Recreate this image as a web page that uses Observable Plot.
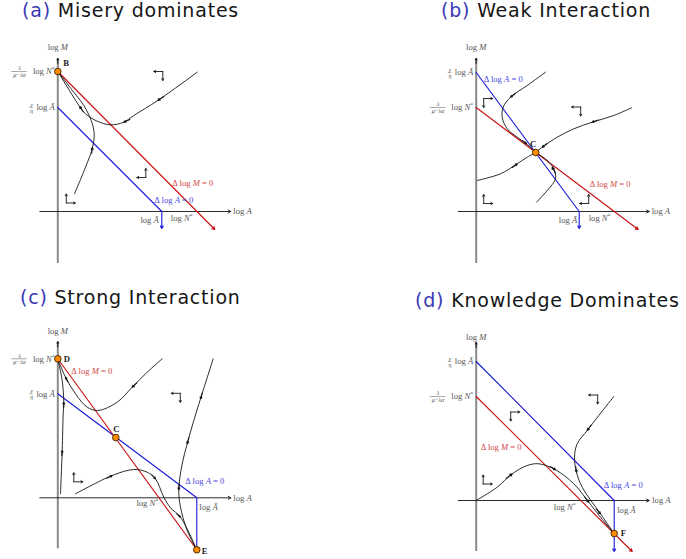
<!DOCTYPE html>
<html><head><meta charset="utf-8">
<script src="https://cdn.jsdelivr.net/npm/d3@7"></script>
<script src="https://cdn.jsdelivr.net/npm/@observablehq/plot@0.6"></script>
<style>
body{margin:0;background:#fff;}
#root{position:relative;width:686px;height:559px;overflow:hidden;background:#fff;}
.title{position:absolute;font-family:"DejaVu Sans",sans-serif;font-size:19px;letter-spacing:0.8px;line-height:20px;white-space:nowrap;color:#161616;}
.title .tag{color:#3838b4;}
.panel{position:absolute;}
.panel svg{overflow:visible;}
</style></head><body><div id="root"></div>
<script>
// ---------------- DATA ----------------
const panelIds = ["a", "b", "c", "d"];
const titleTags = ["(a)", "(b)", "(c)", "(d)"];
const titleTexts = ["Misery dominates", "Weak Interaction", "Strong Interaction", "Knowledge Dominates"];

// axis extents (schematic log units)
const axisExtents = [
  {panel: "a", x0: -1.8, x1: 17.3, y0: -5.2, y1: 15.3},
  {panel: "b", x0: -1.8, x1: 17.3, y0: -5.2, y1: 15.3},
  {panel: "c", x0: -1.8, x1: 17.3, y0: -5.1, y1: 15.6},
  {panel: "d", x0: -1.8, x1: 17.3, y0: -5.1, y1: 15.8}
];

// Δ log A = 0 nullcline (blue)
const blueNullcline = [
  {panel: "a", x: 0, y: 10.4}, {panel: "a", x: 10.4, y: 0},
  {panel: "b", x: 0, y: 13.9}, {panel: "b", x: 10.3, y: 0},
  {panel: "c", x: 0, y: 10.4}, {panel: "c", x: 13.9, y: 0},
  {panel: "d", x: 0, y: 13.9}, {panel: "d", x: 13.8, y: 0}
];
const blueDrop = [
  {panel: "a", x: 10.4, y1: 0, y2: -1.7, head: true},
  {panel: "b", x: 10.3, y1: 0, y2: -1.7, head: true},
  {panel: "c", x: 13.9, y1: 0, y2: -5.2, head: false},
  {panel: "d", x: 13.8, y1: 0, y2: -5.1, head: true}
];
// Δ log M = 0 nullcline (red)
const redNullcline = [
  {panel: "a", x1: 0, y1: 14.0, x2: 15.7, y2: -1.8, head: true},
  {panel: "b", x1: 0, y1: 10.4, x2: 16.2, y2: -1.8, head: true},
  {panel: "c", x1: 0, y1: 13.9, x2: 13.9, y2: -5.2, head: false},
  {panel: "d", x1: 0, y1: 10.4, x2: 15.6, y2: -5.1, head: true}
];

// equilibria
const equilibria = [
  {panel: "a", name: "B", x: 0, y: 14.0},
  {panel: "b", name: "C", x: 5.95, y: 5.9},
  {panel: "c", name: "D", x: 0, y: 13.9},
  {panel: "c", name: "C", x: 5.8, y: 6.02},
  {panel: "c", name: "E", x: 13.9, y: -5.2},
  {panel: "d", name: "F", x: 13.8, y: -3.3}
];
const equilibriumLabels = [
  {panel: "a", name: "B", x: 0.55, y: 14.8, anchor: "start"},
  {panel: "b", name: "C", x: 5.7, y: 6.75, anchor: "middle"},
  {panel: "c", name: "D", x: 0.6, y: 13.9, anchor: "start"},
  {panel: "c", name: "C", x: 5.85, y: 6.85, anchor: "middle"},
  {panel: "c", name: "E", x: 14.4, y: -5.35, anchor: "start"},
  {panel: "d", name: "F", x: 14.45, y: -3.3, anchor: "start"}
];

// trajectories
const trajectories = [
  {panel: "a", id: "a1", pts: [[13.94,13.93],[10.0,11.1],[7.6,9.6],[6.6,8.93],[5.27,8.67],[3.94,9.03],[2.77,9.77],[2.27,10.37],[1.1,12.2],[0,14.0]]},
  {panel: "a", id: "a2", pts: [[1.67,1.77],[2.77,4.43],[3.44,6.27],[3.64,7.77],[3.34,9.1],[2.6,10.6],[1.3,12.3],[0,14.0]]},
  {panel: "b", id: "b1", pts: [[6.93,13.93],[5.1,12.6],[3.43,11.43],[2.7,10.43],[2.6,9.43],[3.1,8.27],[4.1,7.43],[5.03,6.77],[5.95,5.9]]},
  {panel: "b", id: "b2", pts: [[15.53,10.37],[13.76,9.6],[11.6,8.93],[9.76,8.27],[8.1,7.43],[6.6,6.43],[5.95,5.9]]},
  {panel: "b", id: "b3", pts: [[0.1,3.1],[2.43,3.77],[4.1,4.77],[5.1,5.43],[5.95,5.9]]},
  {panel: "b", id: "b4", pts: [[6.03,0.93],[7.1,2.1],[7.93,3.27],[7.76,4.27],[7.1,5.1],[5.95,5.9]]},
  {panel: "c", id: "c1", pts: [[10.44,13.9],[8.94,12.56],[7.44,11.06],[5.94,9.56],[4.0,8.73],[2.94,9.06],[1.77,10.4],[0.77,12.06],[0,13.9]]},
  {panel: "c", id: "c2", pts: [[0.27,0.4],[0.44,4.73],[0.54,8.4],[0.6,9.56],[0.44,11.73],[0,13.9]]},
  {panel: "c", id: "c3", pts: [[1.77,0.4],[5.44,2.23],[7.6,2.83],[8.94,2.56],[9.77,1.9],[10.6,0.06],[11.27,-1.0],[12.27,-1.94],[13.9,-5.2]]},
  {panel: "c", id: "c4", pts: [[15.54,13.9],[14.27,9.9],[13.6,7.73],[12.94,5.4],[12.44,3.4],[12.1,0.8],[12.27,-0.94],[12.94,-3.27],[13.9,-5.2]]},
  {panel: "d", id: "d1", pts: [[0,0],[2.1,1.33],[3.6,2.67],[5.1,3.5],[6.27,3.67],[7.93,3.07],[9.76,1.67],[11.26,-0.17],[12.43,-1.67],[13.8,-3.3]]},
  {panel: "d", id: "d2", pts: [[13.76,10.4],[12.26,8.5],[11.1,7.0],[10.1,5.67],[9.83,4.33],[10.03,2.83],[10.6,1.33],[12.43,-1.33],[13.8,-3.3]]}
];

// arrowheads on trajectories (tail -> tip)
const trajectoryArrows = [
  {panel: "a", x1: 10.6, y1: 11.5, x2: 10.0, y2: 11.1},
  {panel: "a", x1: 7.2, y1: 9.2, x2: 6.6, y2: 8.93},
  {panel: "a", x1: 2.55, y1: 9.95, x2: 2.2, y2: 10.5},
  {panel: "a", x1: 3.38, y1: 5.8, x2: 3.46, y2: 6.4},
  {panel: "b", x1: 3.9, y1: 11.8, x2: 3.43, y2: 11.43},
  {panel: "b", x1: 4.6, y1: 7.1, x2: 5.03, y2: 6.77},
  {panel: "b", x1: 12.2, y1: 9.15, x2: 11.6, y2: 8.93},
  {panel: "b", x1: 7.1, y1: 6.8, x2: 6.6, y2: 6.43},
  {panel: "b", x1: 3.6, y1: 4.4, x2: 4.1, y2: 4.77},
  {panel: "b", x1: 7.93, y1: 3.8, x2: 7.6, y2: 4.45},
  {panel: "c", x1: 7.9, y1: 11.5, x2: 7.44, y2: 11.06},
  {panel: "c", x1: 1.0, y1: 11.6, x2: 0.77, y2: 12.06},
  {panel: "c", x1: 0.42, y1: 4.2, x2: 0.44, y2: 4.73},
  {panel: "c", x1: 0.58, y1: 9.0, x2: 0.6, y2: 9.56},
  {panel: "c", x1: 4.9, y1: 1.95, x2: 5.44, y2: 2.23},
  {panel: "c", x1: 9.4, y1: 2.3, x2: 9.77, y2: 1.9},
  {panel: "c", x1: 11.9, y1: -1.6, x2: 12.27, y2: -1.94},
  {panel: "c", x1: 14.45, y1: 10.5, x2: 14.27, y2: 9.9},
  {panel: "c", x1: 13.1, y1: 6.0, x2: 12.94, y2: 5.4},
  {panel: "c", x1: 12.13, y1: 1.4, x2: 12.1, y2: 0.8},
  {panel: "d", x1: 3.0, y1: 2.2, x2: 3.6, y2: 2.67},
  {panel: "d", x1: 7.4, y1: 3.4, x2: 7.93, y2: 3.07},
  {panel: "d", x1: 10.85, y1: 0.35, x2: 11.26, y2: -0.17},
  {panel: "d", x1: 11.5, y1: 7.55, x2: 11.1, y2: 7.0},
  {panel: "d", x1: 9.95, y1: 3.4, x2: 10.03, y2: 2.83},
  {panel: "d", x1: 12.0, y1: -0.85, x2: 12.43, y2: -1.33}
];

// phase-direction indicators: corner, horizontal sign, vertical sign
const flowIndicators = [
  {panel: "a", x: 10.5, y: 14.0, h: -1, v: -1},
  {panel: "a", x: 8.8, y: 3.4, h: -1, v: 1},
  {panel: "a", x: 0.85, y: 0.85, h: 1, v: 1},
  {panel: "b", x: 0.75, y: 11.3, h: 1, v: -1},
  {panel: "b", x: 10.45, y: 10.45, h: -1, v: -1},
  {panel: "b", x: 0.75, y: 0.8, h: 1, v: 1},
  {panel: "b", x: 11.25, y: 0.8, h: -1, v: 1},
  {panel: "c", x: 1.6, y: 1.6, h: 1, v: 1},
  {panel: "c", x: 12.25, y: 10.45, h: -1, v: -1},
  {panel: "d", x: 12.15, y: 10.55, h: -1, v: -1},
  {panel: "d", x: 3.45, y: 8.85, h: 1, v: -1},
  {panel: "d", x: 0.7, y: 1.65, h: 1, v: 1}
];

// text annotations
const annotations = [
  {panel: "a", text: "log M", x: 0, y: 16.4, anchor: "middle", role: "axis"},
  {panel: "a", text: "log A", x: 17.55, y: 0, anchor: "start", role: "axis"},
  {panel: "a", text: "log Ã", x: 10.1, y: -0.85, anchor: "end", role: "axis"},
  {panel: "a", text: "log N*", x: 11.3, y: -0.65, anchor: "start", role: "axis"},
  {panel: "a", text: "Δ log M = 0", x: 11.45, y: 2.8, anchor: "start", role: "red"},
  {panel: "a", text: "Δ log A = 0", x: 9.65, y: 1.1, anchor: "start", role: "blue"},
  {panel: "b", text: "log M", x: 0, y: 16.4, anchor: "middle", role: "axis"},
  {panel: "b", text: "log A", x: 17.55, y: 0, anchor: "start", role: "axis"},
  {panel: "b", text: "log Ã", x: 10.1, y: -0.85, anchor: "end", role: "axis"},
  {panel: "b", text: "log N*", x: 11.25, y: -0.65, anchor: "start", role: "axis"},
  {panel: "b", text: "Δ log A = 0", x: 0.75, y: 13.25, anchor: "start", role: "blue"},
  {panel: "b", text: "Δ log M = 0", x: 11.35, y: 2.75, anchor: "start", role: "red"},
  {panel: "c", text: "log M", x: 0, y: 16.7, anchor: "middle", role: "axis"},
  {panel: "c", text: "log A", x: 17.55, y: 0, anchor: "start", role: "axis"},
  {panel: "c", text: "log N*", x: 10.05, y: -0.55, anchor: "end", role: "axis"},
  {panel: "c", text: "log Ã", x: 14.15, y: -0.9, anchor: "start", role: "axis"},
  {panel: "c", text: "Δ log M = 0", x: 1.35, y: 12.7, anchor: "start", role: "red"},
  {panel: "c", text: "Δ log A = 0", x: 12.75, y: 1.65, anchor: "start", role: "blue"},
  {panel: "d", text: "log M", x: 0, y: 16.35, anchor: "middle", role: "axis"},
  {panel: "d", text: "log A", x: 17.6, y: 0, anchor: "start", role: "axis"},
  {panel: "d", text: "log N*", x: 9.95, y: -0.7, anchor: "end", role: "axis"},
  {panel: "d", text: "log Ã", x: 14.1, y: -0.95, anchor: "start", role: "axis"},
  {panel: "d", text: "Δ log M = 0", x: 0.45, y: 5.3, anchor: "start", role: "red"},
  {panel: "d", text: "Δ log A = 0", x: 12.75, y: 1.5, anchor: "start", role: "blue"}
];

// y-axis level labels: N = λ/(μ−λα) log N*, A = (ε/η) log Ã
const yLevelLabels = [
  {panel: "a", kind: "N", y: 14.0}, {panel: "a", kind: "A", y: 10.4},
  {panel: "b", kind: "A", y: 13.9}, {panel: "b", kind: "N", y: 10.4},
  {panel: "c", kind: "N", y: 13.9}, {panel: "c", kind: "A", y: 10.4},
  {panel: "d", kind: "A", y: 13.9}, {panel: "d", kind: "N", y: 10.4}
];
const levelParts = {
  N: {num: "λ", den: "μ−λα", tail: "log N*"},
  A: {num: "ε", den: "η", tail: "log Ã"}
};

// ---------------- LAYOUT / STYLE ----------------
const layout = {
  a: {sx: 0, sy: 30, w: 343, h: 250, ox: 57.3, oy: 211},
  b: {sx: 343, sy: 30, w: 343, h: 250, ox: 475.7, oy: 211},
  c: {sx: 0, sy: 310, w: 343, h: 249, ox: 57.3, oy: 497.3},
  d: {sx: 343, sy: 310, w: 343, h: 249, ox: 475.7, oy: 500}
};
const titlePos = {a: [22, 0], b: [441, 0], c: [20, 287], d: [415, 290]};
const SERIF = "Liberation Serif, DejaVu Serif, serif";
const FS = 8.6, FSF = 6.2;
const RED = "#c81010", REDTXT = "#d24848", BLUE = "#1818d8", BLUETXT = "#4848e0", GRAY = "#555", INK = "#151515";
const roleColor = {axis: GRAY, red: REDTXT, blue: BLUETXT};

const root = document.getElementById("root");

function richify(svg) {
  svg.querySelectorAll("text").forEach(t => {
    if (t.closest('[font-weight="bold"]')) return;
    if (t.children.length) return;
    const s = t.textContent;
    const parts = s.match(/log|[A-Za-zÃλμαεη]|[^A-Za-zÃλμαεη]+/g);
    if (!parts) return;
    t.textContent = "";
    for (const p of parts) {
      const ts = document.createElementNS("http://www.w3.org/2000/svg", "tspan");
      ts.textContent = p;
      if (p.length === 1 && /[A-Za-zÃλμαεη]/.test(p)) ts.setAttribute("font-style", "italic");
      if (p === "*") { ts.setAttribute("font-size", "0.7em"); ts.setAttribute("dy", "-2.8"); }
      t.appendChild(ts);
    }
  });
}

panelIds.forEach((pid, i) => {
  const L = layout[pid];
  const f = d => d.panel === pid;
  const ax = axisExtents.filter(f);
  const trajRows = trajectories.filter(f).flatMap(t => t.pts.map(([x, y]) => ({id: t.id, x, y})));
  const levels = yLevelLabels.filter(f);
  const levN = levels.filter(d => d.kind === "N");
  const levA = levels.filter(d => d.kind === "A");
  const z = () => 0;

  const chart = Plot.plot({
    width: L.w, height: L.h, margin: 0,
    x: {type: "linear", domain: [0, 10], range: [L.ox - L.sx, L.ox - L.sx + 100], axis: null},
    y: {type: "linear", domain: [0, 10], range: [L.oy - L.sy, L.oy - L.sy - 100], axis: null},
    style: {background: "transparent", overflow: "visible"},
    marks: [
      // axes
      Plot.ruleX(ax, {x: z, y1: "y0", y2: "y1", stroke: "#8a8a8a", strokeWidth: 2}),
      Plot.arrow(ax, {x1: z, x2: z, y1: d => d.y1 - 0.5, y2: "y1", stroke: INK, strokeWidth: 1, headLength: 5}),
      Plot.arrow(ax, {x1: "x0", y1: z, x2: "x1", y2: z, stroke: INK, strokeWidth: 0.9, headLength: 5}),
      // nullclines
      Plot.line(blueNullcline.filter(f), {x: "x", y: "y", stroke: BLUE, strokeWidth: 1.1}),
      Plot.arrow(blueDrop.filter(d => f(d) && d.head), {x1: "x", x2: "x", y1: "y1", y2: "y2", stroke: BLUE, strokeWidth: 1.1, headLength: 4}),
      Plot.ruleX(blueDrop.filter(d => f(d) && !d.head), {x: "x", y1: "y1", y2: "y2", stroke: BLUE, strokeWidth: 1.1}),
      Plot.arrow(redNullcline.filter(d => f(d) && d.head), {x1: "x1", y1: "y1", x2: "x2", y2: "y2", stroke: RED, strokeWidth: 1.1, headLength: 4}),
      Plot.link(redNullcline.filter(d => f(d) && !d.head), {x1: "x1", y1: "y1", x2: "x2", y2: "y2", stroke: RED, strokeWidth: 1.1}),
      // trajectories
      Plot.line(trajRows, {x: "x", y: "y", z: "id", curve: "catmull-rom", stroke: INK, strokeWidth: 0.9}),
      Plot.arrow(trajectoryArrows.filter(f), {x1: "x1", y1: "y1", x2: "x2", y2: "y2", stroke: INK, strokeWidth: 1.1, headLength: 6, headAngle: 55}),
      // direction indicators
      Plot.arrow(flowIndicators.filter(f), {x1: "x", y1: "y", x2: d => d.x + d.h * 0.9, y2: "y", stroke: INK, strokeWidth: 0.9, headLength: 3.5}),
      Plot.arrow(flowIndicators.filter(f), {x1: "x", y1: "y", x2: "x", y2: d => d.y + d.v * 0.9, stroke: INK, strokeWidth: 0.9, headLength: 3.5}),
      // equilibria
      Plot.dot(equilibria.filter(f), {x: "x", y: "y", r: 3.3, fill: "#ff8c00", stroke: "#3a2200", strokeWidth: 0.9}),
      Plot.text(equilibriumLabels.filter(d => f(d) && d.anchor === "start"), {x: "x", y: "y", text: "name", textAnchor: "start", fontWeight: "bold", fontSize: FS, fontFamily: SERIF, fill: "#222"}),
      Plot.text(equilibriumLabels.filter(d => f(d) && d.anchor === "middle"), {x: "x", y: "y", text: "name", textAnchor: "middle", fontWeight: "bold", fontSize: FS, fontFamily: SERIF, fill: "#222"}),
      // annotations
      ...["start", "middle", "end"].map(a => Plot.text(annotations.filter(d => f(d) && d.anchor === a), {
        x: "x", y: "y", text: "text", textAnchor: a, fontSize: FS, fontFamily: SERIF, fill: d => roleColor[d.role]
      })),
      // y-level labels
      Plot.text(levels, {x: z, y: "y", text: d => levelParts[d.kind].tail, textAnchor: "end", dx: -3, fontSize: FS, fontFamily: SERIF, fill: GRAY}),
      Plot.ruleY(levN, {y: "y", x1: () => -4.6, x2: () => -3.05, stroke: GRAY, strokeWidth: 0.5}),
      Plot.text(levN, {x: () => -3.82, y: "y", text: d => levelParts[d.kind].num, dy: -3.0, fontSize: FSF, fontFamily: SERIF, fill: GRAY}),
      Plot.text(levN, {x: () => -3.82, y: "y", text: d => levelParts[d.kind].den, dy: 3.4, fontSize: FSF, fontFamily: SERIF, fill: GRAY}),
      Plot.ruleY(levA, {y: "y", x1: () => -2.8, x2: () => -2.45, stroke: GRAY, strokeWidth: 0.5}),
      Plot.text(levA, {x: () => -2.62, y: "y", text: d => levelParts[d.kind].num, dy: -2.8, fontSize: FSF, fontFamily: SERIF, fill: GRAY}),
      Plot.text(levA, {x: () => -2.62, y: "y", text: d => levelParts[d.kind].den, dy: 3.2, fontSize: FSF, fontFamily: SERIF, fill: GRAY})
    ]
  });
  richify(chart);
  const wrap = document.createElement("div");
  wrap.className = "panel";
  wrap.style.left = L.sx + "px";
  wrap.style.top = L.sy + "px";
  wrap.appendChild(chart);
  root.appendChild(wrap);

  const t = document.createElement("div");
  t.className = "title";
  t.style.left = titlePos[pid][0] + "px";
  t.style.top = titlePos[pid][1] + "px";
  t.innerHTML = `<span class="tag">${titleTags[i]}</span> ${titleTexts[i]}`;
  root.appendChild(t);
});
</script>
</body></html>
